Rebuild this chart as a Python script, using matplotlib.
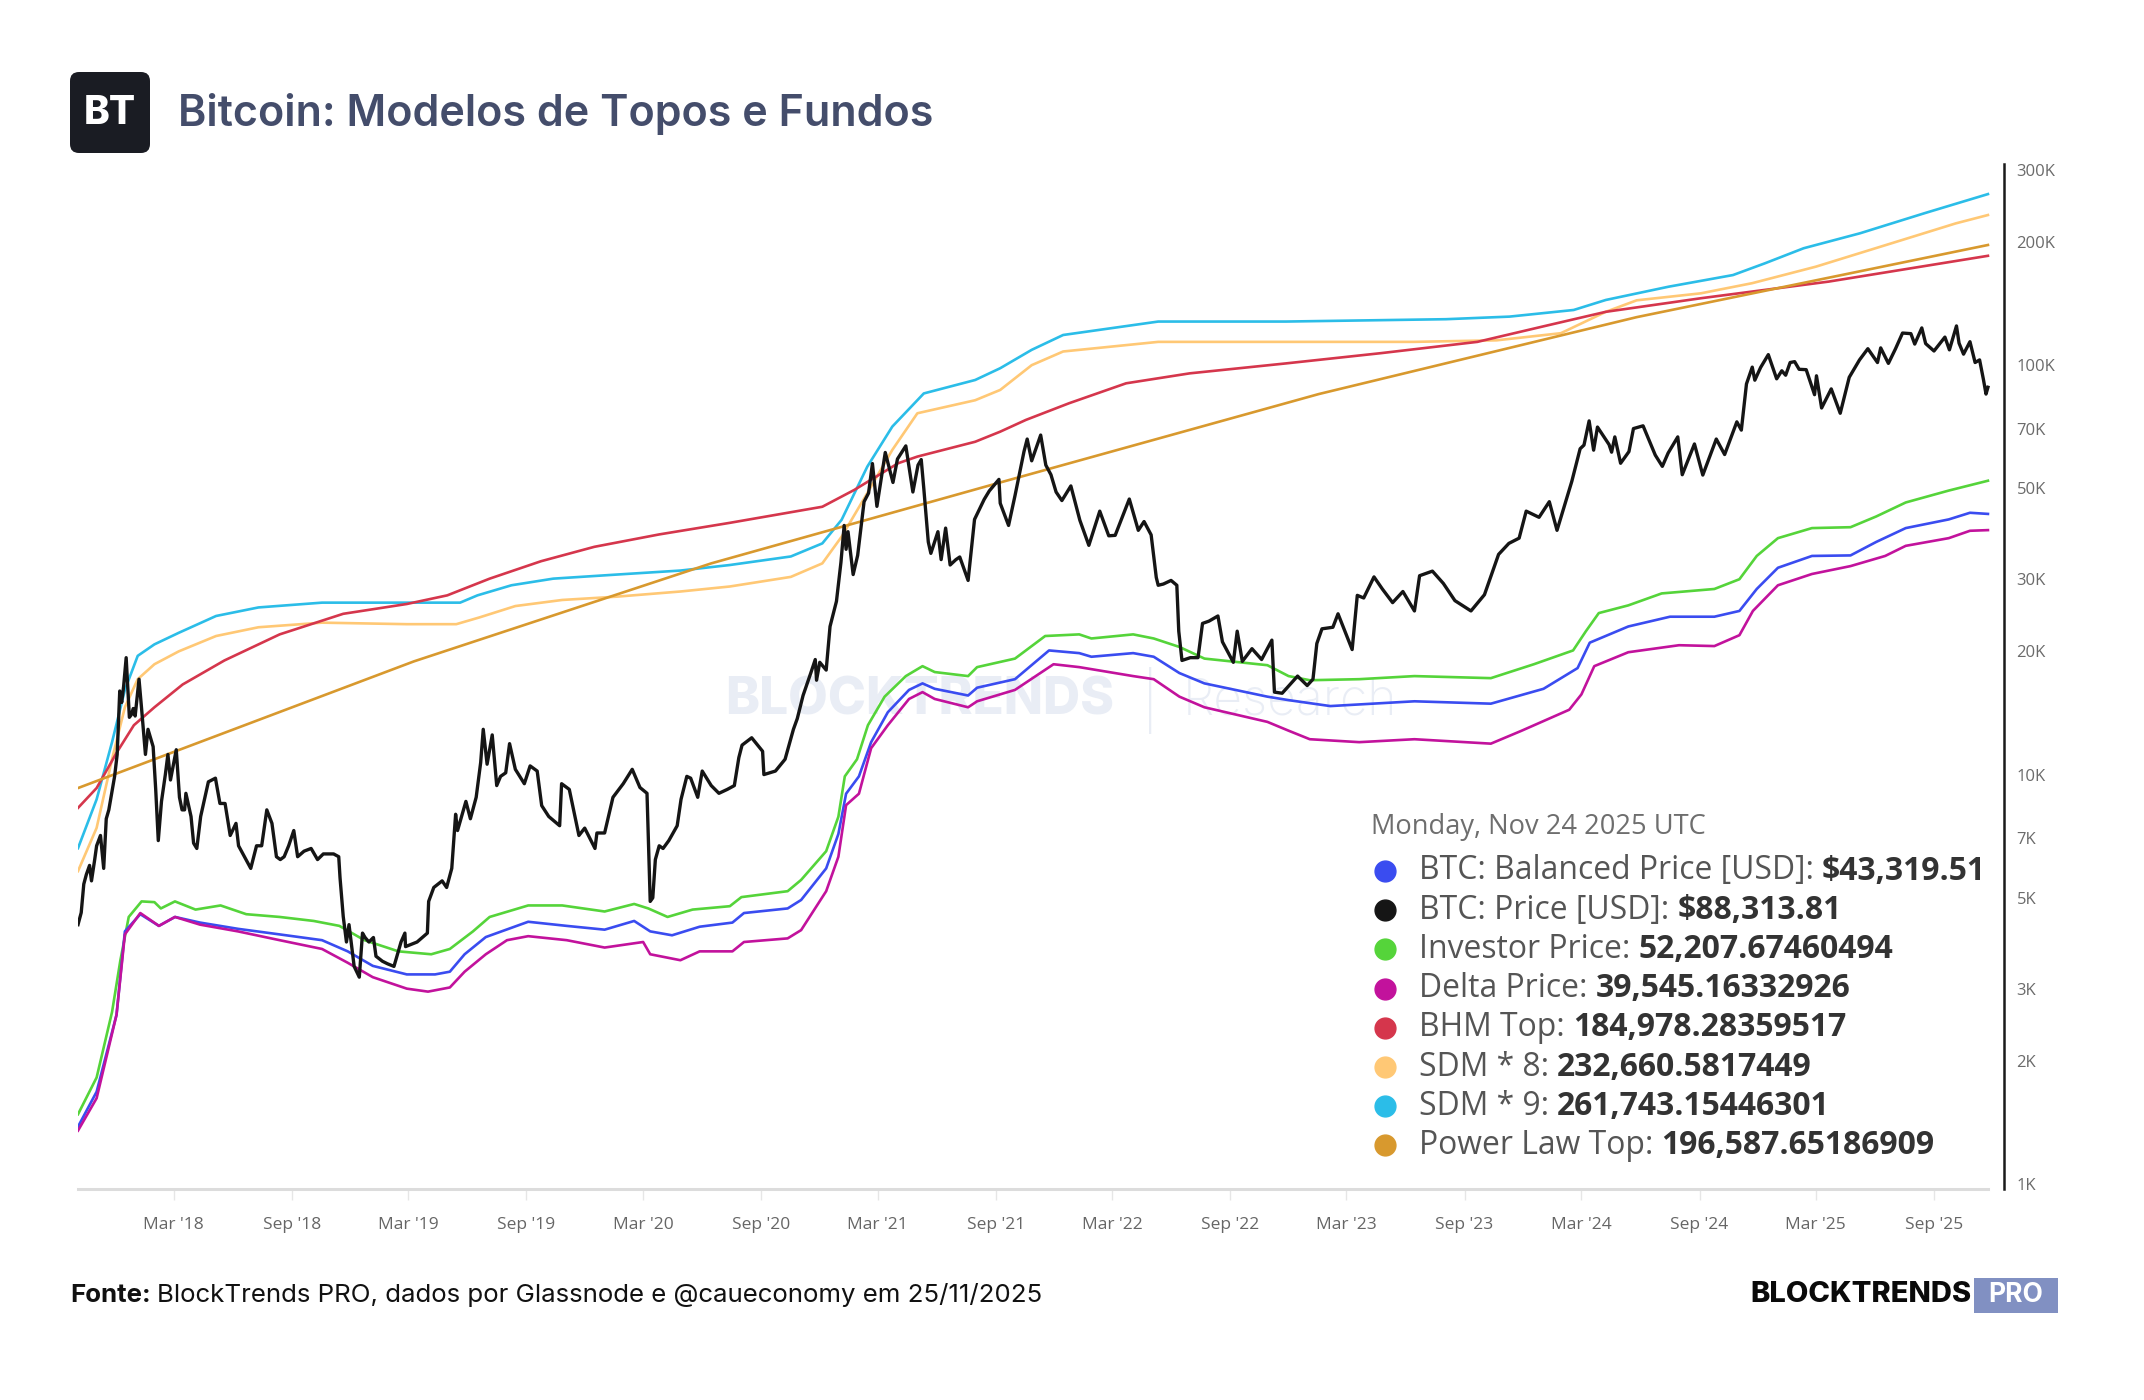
"""Bitcoin: Modelos de Topos e Fundos - log chart recreation."""
import pandas as pd
import matplotlib.pyplot as plt
import matplotlib.dates as mdates
import matplotlib.ticker as mticker
from matplotlib.lines import Line2D
from matplotlib.patches import FancyBboxPatch, Rectangle
from matplotlib.transforms import IdentityTransform

W, H = 2144, 1400

# ---- data (USD) ----
price_dates = [
    "2017-10-03", "2017-10-08", "2017-10-12", "2017-10-16", "2017-10-21", "2017-10-24", "2017-10-29",
    "2017-11-01", "2017-11-07", "2017-11-12", "2017-11-16", "2017-11-20", "2017-11-26", "2017-11-29",
    "2017-12-03", "2017-12-07", "2017-12-10", "2017-12-13", "2017-12-17", "2017-12-22", "2017-12-25",
    "2017-12-28", "2017-12-31", "2018-01-06", "2018-01-10", "2018-01-16", "2018-01-20", "2018-01-28",
    "2018-02-01", "2018-02-05", "2018-02-10", "2018-02-16", "2018-02-20", "2018-02-24", "2018-03-05",
    "2018-03-10", "2018-03-14", "2018-03-18", "2018-03-20", "2018-03-28", "2018-04-01", "2018-04-06",
    "2018-04-12", "2018-04-24", "2018-05-05", "2018-05-12", "2018-05-20", "2018-05-28", "2018-06-06",
    "2018-06-10", "2018-06-24", "2018-06-29", "2018-07-08", "2018-07-16", "2018-07-24", "2018-08-01",
    "2018-08-08", "2018-08-14", "2018-08-20", "2018-08-27", "2018-09-04", "2018-09-10", "2018-09-20",
    "2018-10-01", "2018-10-11", "2018-10-20", "2018-11-05", "2018-11-13", "2018-11-15", "2018-11-20",
    "2018-11-25", "2018-11-29", "2018-12-07", "2018-12-15", "2018-12-20", "2018-12-24", "2018-12-30",
    "2019-01-06", "2019-01-10", "2019-01-20", "2019-01-28", "2019-02-07", "2019-02-18", "2019-02-24",
    "2019-02-25", "2019-03-15", "2019-03-31", "2019-04-02", "2019-04-10", "2019-04-23", "2019-04-30",
    "2019-05-08", "2019-05-14", "2019-05-17", "2019-05-30", "2019-06-06", "2019-06-15", "2019-06-22",
    "2019-06-26", "2019-07-02", "2019-07-10", "2019-07-17", "2019-07-23", "2019-07-31", "2019-08-06",
    "2019-08-15", "2019-08-29", "2019-09-07", "2019-09-18", "2019-09-25", "2019-10-06", "2019-10-23",
    "2019-10-26", "2019-11-07", "2019-11-22", "2019-12-01", "2019-12-17", "2019-12-20", "2020-01-01",
    "2020-01-14", "2020-01-30", "2020-02-13", "2020-02-25", "2020-03-07", "2020-03-12", "2020-03-16",
    "2020-03-20", "2020-03-26", "2020-04-01", "2020-04-10", "2020-04-23", "2020-04-29", "2020-05-08",
    "2020-05-14", "2020-05-25", "2020-06-01", "2020-06-15", "2020-06-27", "2020-07-10", "2020-07-21",
    "2020-07-28", "2020-08-02", "2020-08-17", "2020-09-03", "2020-09-05", "2020-09-23", "2020-10-08",
    "2020-10-21", "2020-10-27", "2020-11-05", "2020-11-17", "2020-11-24", "2020-11-26", "2020-12-01",
    "2020-12-11", "2020-12-17", "2020-12-27", "2021-01-03", "2021-01-08", "2021-01-11", "2021-01-14",
    "2021-01-22", "2021-01-29", "2021-02-08", "2021-02-15", "2021-02-21", "2021-02-28", "2021-03-13",
    "2021-03-25", "2021-04-01", "2021-04-14", "2021-04-25", "2021-05-03", "2021-05-08", "2021-05-12",
    "2021-05-19", "2021-05-23", "2021-06-03", "2021-06-08", "2021-06-15", "2021-06-22", "2021-07-01",
    "2021-07-07", "2021-07-20", "2021-07-30", "2021-08-14", "2021-08-22", "2021-09-06", "2021-09-08",
    "2021-09-21", "2021-10-01", "2021-10-15", "2021-10-20", "2021-10-27", "2021-11-10", "2021-11-18",
    "2021-11-26", "2021-12-04", "2021-12-13", "2021-12-27", "2022-01-10", "2022-01-24", "2022-02-10",
    "2022-02-24", "2022-03-06", "2022-03-28", "2022-04-11", "2022-04-20", "2022-05-01", "2022-05-09",
    "2022-05-12", "2022-05-20", "2022-06-01", "2022-06-10", "2022-06-13", "2022-06-18", "2022-07-01",
    "2022-07-13", "2022-07-20", "2022-07-30", "2022-08-13", "2022-08-20", "2022-09-06", "2022-09-12",
    "2022-09-20", "2022-10-05", "2022-10-20", "2022-11-05", "2022-11-09", "2022-11-21", "2022-12-15",
    "2022-12-30", "2023-01-08", "2023-01-14", "2023-01-22", "2023-02-08", "2023-02-16", "2023-03-10",
    "2023-03-18", "2023-03-28", "2023-04-13", "2023-04-26", "2023-05-12", "2023-05-28", "2023-06-15",
    "2023-06-23", "2023-07-13", "2023-07-30", "2023-08-17", "2023-09-11", "2023-10-02", "2023-10-24",
    "2023-11-09", "2023-11-25", "2023-12-06", "2023-12-26", "2024-01-11", "2024-01-23", "2024-02-15",
    "2024-02-28", "2024-03-05", "2024-03-13", "2024-03-20", "2024-03-26", "2024-04-13", "2024-04-17",
    "2024-04-22", "2024-05-01", "2024-05-14", "2024-05-21", "2024-06-05", "2024-06-24", "2024-07-05",
    "2024-07-14", "2024-07-29", "2024-08-05", "2024-08-24", "2024-09-06", "2024-09-27", "2024-10-10",
    "2024-10-29", "2024-11-05", "2024-11-13", "2024-11-22", "2024-11-26", "2024-12-05", "2024-12-17",
    "2024-12-30", "2025-01-07", "2025-01-13", "2025-01-20", "2025-01-27", "2025-02-03", "2025-02-14",
    "2025-02-27", "2025-03-02", "2025-03-10", "2025-03-25", "2025-04-08", "2025-04-22", "2025-05-08",
    "2025-05-21", "2025-06-05", "2025-06-10", "2025-06-22", "2025-07-03", "2025-07-14", "2025-07-27",
    "2025-08-02", "2025-08-13", "2025-08-19", "2025-09-01", "2025-09-18", "2025-09-25", "2025-10-06",
    "2025-10-10", "2025-10-17", "2025-10-27", "2025-11-04", "2025-11-11", "2025-11-17", "2025-11-21",
    "2025-11-24",
]
price_vals = [
    4300, 4600, 5400, 5700, 6000, 5500, 6200,
    6700, 7100, 5900, 7800, 8200, 9300, 9900,
    11200, 16000, 15000, 16400, 19300, 13800, 14000,
    14500, 13900, 17100, 14500, 11200, 12900, 11700,
    9200, 6900, 8600, 10000, 11200, 9700, 11500,
    8800, 8200, 8200, 9000, 7900, 6800, 6600,
    7900, 9600, 9800, 8500, 8500, 7100, 7600,
    6700, 6100, 5900, 6700, 6700, 8200, 7600,
    6300, 6200, 6300, 6700, 7300, 6300, 6500,
    6600, 6200, 6400, 6400, 6300, 5600, 4500,
    3900, 4300, 3400, 3200, 4100, 4000, 3900,
    4000, 3600, 3500, 3450, 3400, 3900, 4100,
    3800, 3900, 4100, 4900, 5300, 5500, 5300,
    5900, 8000, 7300, 8600, 7800, 8800, 10700,
    12900, 10600, 12500, 9400, 9900, 10100, 11900,
    10300, 9500, 10500, 10200, 8400, 7900, 7500,
    9500, 9200, 7100, 7400, 6600, 7200, 7200,
    8800, 9500, 10300, 9300, 9000, 4900, 5000,
    6200, 6700, 6600, 6900, 7500, 8700, 9900,
    9800, 8800, 10200, 9400, 9000, 9200, 9400,
    11000, 11800, 12300, 11400, 10000, 10200, 10900,
    12900, 13700, 15600, 17700, 19100, 17000, 18800,
    18000, 23000, 26500, 33000, 40600, 35500, 39200,
    30800, 34300, 46400, 48700, 57500, 45200, 61200,
    51700, 59000, 63500, 49000, 57000, 58800, 50000,
    37000, 34700, 39200, 33500, 40000, 32500, 33500,
    34000, 29800, 42000, 47000, 49300, 52600, 46000,
    40600, 48000, 61500, 66000, 58400, 67500, 57000,
    54000, 49000, 46700, 50700, 41800, 36300, 44000,
    38300, 38400, 47100, 39500, 41500, 38500, 30300,
    29000, 29200, 29800, 29000, 22400, 19000, 19300,
    19300, 23400, 23700, 24400, 21100, 18800, 22400,
    18900, 20300, 19100, 21300, 15900, 15800, 17400,
    16500, 17100, 20900, 22700, 22900, 24700, 20200,
    27400, 27000, 30400, 28400, 26300, 28000, 25100,
    30600, 31400, 29300, 26600, 25100, 27500, 34500,
    36700, 37800, 44000, 42500, 46400, 39500, 52000,
    62500, 63800, 73100, 62000, 70600, 64000, 61300,
    66800, 57600, 61500, 70000, 71100, 60300, 56600,
    61000, 66800, 54000, 64200, 53900, 66000, 60500,
    72700, 69400, 90000, 98900, 91900, 98700, 106100,
    92600, 96900, 94500, 101500, 102000, 97700, 97500,
    84700, 94200, 78600, 87500, 76300, 93400, 103000,
    109700, 101500, 110200, 101000, 109600, 119800, 119400,
    112600, 123300, 112900, 108300, 117100, 109000, 124700,
    113200, 106400, 114100, 101500, 103000, 92200, 85000,
    88314,
]

investor_dates = [
    "2017-10-03", "2017-11-01", "2017-11-25", "2017-12-08", "2017-12-21", "2018-01-10", "2018-01-30",
    "2018-02-09", "2018-03-03", "2018-04-04", "2018-05-13", "2018-06-22", "2018-08-13", "2018-10-05",
    "2018-11-14", "2018-12-23", "2019-02-14", "2019-04-06", "2019-05-05", "2019-06-10", "2019-07-06",
    "2019-09-04", "2019-10-27", "2020-01-01", "2020-02-16", "2020-03-09", "2020-04-08", "2020-05-17",
    "2020-07-14", "2020-08-01", "2020-10-12", "2020-11-02", "2020-12-11", "2020-12-30", "2021-01-09",
    "2021-01-28", "2021-02-14", "2021-03-12", "2021-04-14", "2021-05-10", "2021-05-29", "2021-07-20",
    "2021-08-03", "2021-10-01", "2021-11-17", "2022-01-09", "2022-01-28", "2022-04-03", "2022-05-05",
    "2022-06-14", "2022-07-23", "2022-10-29", "2022-12-01", "2023-01-03", "2023-03-21", "2023-06-15",
    "2023-10-12", "2023-12-18", "2024-02-17", "2024-03-08", "2024-03-28", "2024-05-13", "2024-07-04",
    "2024-09-24", "2024-11-02", "2024-11-29", "2025-01-01", "2025-02-23", "2025-04-24", "2025-06-03",
    "2025-07-19", "2025-09-24", "2025-11-24",
]
investor_vals = [
    1480, 1820, 2630, 3520, 4490, 4900, 4880,
    4710, 4900, 4680, 4790, 4560, 4490, 4390,
    4270, 3940, 3700, 3640, 3750, 4140, 4490,
    4790, 4790, 4630, 4830, 4710, 4490, 4680,
    4770, 5020, 5190, 5530, 6500, 7890, 9900,
    10900, 13200, 15500, 17400, 18400, 17800, 17400,
    18300, 19200, 21800, 22000, 21500, 22000, 21500,
    20500, 19200, 18500, 17400, 17000, 17100, 17400,
    17200, 18600, 20100, 22400, 24800, 25900, 27700,
    28400, 30000, 34200, 37800, 40000, 40200, 42700,
    46200, 49400, 52208,
]

balanced_dates = [
    "2017-10-03", "2017-11-01", "2017-12-02", "2017-12-15", "2018-01-08", "2018-02-06", "2018-03-03",
    "2018-04-11", "2018-06-09", "2018-08-13", "2018-10-18", "2018-11-27", "2019-01-05", "2019-02-27",
    "2019-04-12", "2019-05-05", "2019-05-28", "2019-06-30", "2019-09-04", "2019-11-03", "2020-01-01",
    "2020-02-16", "2020-03-12", "2020-04-15", "2020-05-28", "2020-07-18", "2020-08-05", "2020-10-12",
    "2020-11-02", "2020-12-11", "2020-12-30", "2021-01-11", "2021-01-31", "2021-02-19", "2021-03-17",
    "2021-04-19", "2021-05-10", "2021-05-29", "2021-07-20", "2021-08-03", "2021-10-01", "2021-11-23",
    "2022-01-09", "2022-01-28", "2022-04-03", "2022-05-05", "2022-06-14", "2022-07-23", "2022-10-29",
    "2022-12-01", "2023-02-04", "2023-06-15", "2023-10-12", "2024-01-02", "2024-02-24", "2024-03-14",
    "2024-05-13", "2024-07-17", "2024-09-24", "2024-11-02", "2024-11-29", "2025-01-01", "2025-02-23",
    "2025-04-24", "2025-06-03", "2025-07-19", "2025-09-24", "2025-10-27", "2025-11-24",
]
balanced_vals = [
    1380, 1680, 2590, 4140, 4560, 4270, 4490,
    4350, 4200, 4070, 3940, 3700, 3410, 3250,
    3250, 3300, 3640, 4010, 4370, 4270, 4180,
    4390, 4140, 4050, 4250, 4350, 4590, 4710,
    4940, 5900, 7160, 8980, 9900, 12000, 14200,
    16100, 16700, 16200, 15600, 16300, 17100, 20100,
    19800, 19400, 19800, 19400, 17700, 16700, 15500,
    15200, 14700, 15100, 14900, 16200, 18200, 21000,
    23000, 24300, 24300, 25100, 28400, 32000, 34200,
    34300, 37000, 40000, 42000, 43600, 43320,
]

delta_dates = [
    "2017-10-03", "2017-11-01", "2017-12-02", "2017-12-15", "2018-01-08", "2018-02-06", "2018-03-03",
    "2018-04-11", "2018-06-09", "2018-08-13", "2018-10-18", "2018-11-27", "2019-01-05", "2019-02-27",
    "2019-04-01", "2019-05-05", "2019-05-28", "2019-06-30", "2019-08-02", "2019-09-04", "2019-11-03",
    "2020-01-01", "2020-03-01", "2020-03-12", "2020-04-28", "2020-05-28", "2020-07-18", "2020-08-05",
    "2020-10-12", "2020-11-02", "2020-12-11", "2020-12-30", "2021-01-11", "2021-01-31", "2021-02-19",
    "2021-03-17", "2021-04-19", "2021-05-10", "2021-05-29", "2021-07-20", "2021-08-03", "2021-10-01",
    "2021-11-30", "2022-01-09", "2022-04-03", "2022-05-05", "2022-06-14", "2022-07-23", "2022-10-29",
    "2022-12-01", "2023-01-03", "2023-03-21", "2023-06-15", "2023-10-12", "2023-11-29", "2024-02-11",
    "2024-03-01", "2024-03-21", "2024-05-13", "2024-07-31", "2024-09-24", "2024-11-02", "2024-11-23",
    "2025-01-01", "2025-02-23", "2025-04-24", "2025-06-17", "2025-07-19", "2025-09-24", "2025-10-27",
    "2025-11-24",
]
delta_vals = [
    1350, 1620, 2590, 4070, 4590, 4270, 4490,
    4300, 4140, 3940, 3750, 3470, 3200, 3000,
    2950, 3020, 3300, 3640, 3940, 4030, 3940,
    3780, 3900, 3640, 3520, 3700, 3700, 3900,
    3980, 4170, 5190, 6300, 8420, 8980, 11600,
    13200, 15300, 15900, 15300, 14600, 15100, 16100,
    18600, 18300, 17400, 17100, 15500, 14600, 13450,
    12800, 12200, 12000, 12200, 11900, 12800, 14400,
    15700, 18400, 19900, 20700, 20600, 21900, 25100,
    29000, 30900, 32300, 34200, 36200, 37800, 39400,
    39545,
]

bhm_dates = [
    "2017-10-03", "2017-11-01", "2017-12-02", "2017-12-29", "2018-01-30", "2018-03-15", "2018-05-19",
    "2018-08-13", "2018-11-20", "2019-02-27", "2019-05-01", "2019-07-06", "2019-09-24", "2019-12-16",
    "2020-03-26", "2020-07-14", "2020-12-05", "2021-01-24", "2021-04-02", "2021-05-02", "2021-07-31",
    "2021-09-08", "2021-10-18", "2021-12-24", "2022-03-23", "2022-06-30", "2022-11-27", "2023-04-24",
    "2023-09-21", "2023-12-29", "2024-04-08", "2024-09-03", "2025-03-21", "2025-11-24",
]
bhm_vals = [
    8290, 9270, 11300, 13200, 14600, 16600, 19000,
    22000, 24700, 26100, 27400, 30100, 33200, 36000,
    38600, 41200, 45100, 49600, 57600, 59800, 65000,
    68800, 73500, 80700, 90300, 95500, 101000, 107000,
    114000, 124000, 135000, 145700, 160000, 184978,
]

sdm8_dates = [
    "2017-10-03", "2017-11-01", "2017-11-25", "2017-12-15", "2018-01-04", "2018-01-30", "2018-03-09",
    "2018-05-06", "2018-07-11", "2018-10-18", "2019-02-27", "2019-05-15", "2019-06-20", "2019-08-15",
    "2019-10-27", "2020-01-20", "2020-04-28", "2020-07-14", "2020-10-17", "2020-12-05", "2021-01-04",
    "2021-02-13", "2021-03-24", "2021-05-02", "2021-07-31", "2021-09-08", "2021-10-27", "2021-12-15",
    "2022-05-12", "2023-06-14", "2023-10-21", "2024-01-29", "2024-04-08", "2024-05-26", "2024-09-03",
    "2024-11-22", "2025-03-01", "2025-06-27", "2025-10-05", "2025-11-24",
]
sdm8_vals = [
    5810, 7410, 10900, 14600, 17100, 18600, 20000,
    21800, 22900, 23500, 23300, 23300, 24200, 25800,
    26700, 27200, 28000, 28800, 30400, 32800, 38100,
    48700, 62100, 76300, 82100, 87000, 100000, 108000,
    114000, 114000, 115000, 119700, 135000, 144000, 149800,
    158600, 174000, 198500, 222000, 232661,
]

sdm9_dates = [
    "2017-10-03", "2017-11-01", "2017-11-25", "2017-12-15", "2018-01-04", "2018-01-30", "2018-03-09",
    "2018-05-06", "2018-07-11", "2018-10-18", "2019-02-27", "2019-05-21", "2019-06-17", "2019-08-09",
    "2019-10-13", "2020-01-20", "2020-04-28", "2020-07-14", "2020-10-17", "2020-12-05", "2021-01-04",
    "2021-02-13", "2021-03-24", "2021-05-12", "2021-07-31", "2021-09-08", "2021-10-27", "2021-12-15",
    "2022-05-12", "2022-11-27", "2023-08-03", "2023-11-10", "2024-02-18", "2024-04-08", "2024-07-15",
    "2024-10-23", "2024-12-12", "2025-02-10", "2025-05-09", "2025-08-17", "2025-11-24",
]
sdm9_vals = [
    6610, 8700, 12000, 16100, 19500, 20800, 22200,
    24400, 25600, 26300, 26300, 26300, 27400, 29000,
    30100, 30800, 31500, 32500, 34100, 36700, 41900,
    56500, 70800, 85300, 92000, 98300, 109000, 118500,
    127800, 127800, 129500, 131400, 136400, 144300, 155500,
    166000, 177400, 193000, 210000, 235000, 261743,
]

powerlaw_dates = ["2017-10-03", "2019-03-10", "2020-06-15", "2021-09-08", "2023-01-17", "2024-05-26", "2025-11-24"]
powerlaw_vals = [9270, 18900, 32800, 51700, 85000, 131000, 196588]

legend_date = "Monday, Nov 24 2025 UTC"
legend_labels = ["BTC: Balanced Price [USD]:", "BTC: Price [USD]:", "Investor Price:", "Delta Price:",
                 "BHM Top:", "SDM * 8:", "SDM * 9:", "Power Law Top:"]
legend_values = ["$43,319.51", "$88,313.81", "52,207.67460494", "39,545.16332926",
                 "184,978.28359517", "232,660.5817449", "261,743.15446301", "196,587.65186909"]

yticks = [1e3, 2e3, 3e3, 5e3, 7e3, 1e4, 2e4, 3e4, 5e4, 7e4, 1e5, 2e5, 3e5]
ytick_labels = ["1K", "2K", "3K", "5K", "7K", "10K", "20K", "30K", "50K", "70K", "100K", "200K", "300K"]

# ---- styling ----
C_BAL, C_PRICE, C_INV, C_DELTA = "#3a4cf0", "#151515", "#55d43a", "#c2129c"
C_BHM, C_SDM8, C_SDM9, C_PL = "#d5364c", "#ffc875", "#2bbde8", "#d8992e"
leg_colors = [C_BAL, C_PRICE, C_INV, C_DELTA, C_BHM, C_SDM8, C_SDM9, C_PL]
LEG_FONT = "Open Sans"

plt.rcParams["font.family"] = ["Open Sans", "DejaVu Sans"]

fig = plt.figure(figsize=(W / 100, H / 100), dpi=100)
fig.patch.set_facecolor("white")

# axes placed in pixel terms: x 78..2004, y 164..1189
ax = fig.add_axes([78 / W, 1 - 1189.4 / H, 1926 / W, 1025.4 / H])

td = lambda d: pd.to_datetime(d)
lw = 1.9
ax.plot(td(sdm9_dates), sdm9_vals, color=C_SDM9, lw=lw, zorder=3)
ax.plot(td(sdm8_dates), sdm8_vals, color=C_SDM8, lw=lw, zorder=3)
ax.plot(td(bhm_dates), bhm_vals, color=C_BHM, lw=lw, zorder=3)
ax.plot(td(powerlaw_dates), powerlaw_vals, color=C_PL, lw=lw, zorder=3)
ax.plot(td(investor_dates), investor_vals, color=C_INV, lw=lw, zorder=3)
ax.plot(td(balanced_dates), balanced_vals, color=C_BAL, lw=lw, zorder=3)
ax.plot(td(delta_dates), delta_vals, color=C_DELTA, lw=lw, zorder=3)
ax.plot(td(price_dates), price_vals, color=C_PRICE, lw=2.4, zorder=4)

ax.set_yscale("log")
ax.set_ylim(970, 310000)
start, end = td(price_dates[0]), td(price_dates[-1])
ax.set_xlim(start, end + pd.Timedelta(days=25))

ax.yaxis.tick_right()
ax.yaxis.set_major_locator(mticker.FixedLocator(yticks))
ax.yaxis.set_major_formatter(mticker.FixedFormatter(ytick_labels))
ax.yaxis.set_minor_locator(mticker.NullLocator())
ax.tick_params(axis="y", length=0, pad=9, labelsize=12, labelcolor="#6b6b6b")

ax.xaxis.set_major_locator(mdates.MonthLocator(bymonth=[3, 9]))
ax.xaxis.set_major_formatter(mdates.DateFormatter("%b '%y"))
ax.tick_params(axis="x", length=8, width=1, color="#e6e6e6", pad=12, labelsize=12.5, labelcolor="#666666")

for s in ("left", "top"):
    ax.spines[s].set_visible(False)
ax.spines["right"].set_color("#1a1a1a")
ax.spines["right"].set_linewidth(1.8)
ax.spines["bottom"].set_color("#dcdcdc")
ax.spines["bottom"].set_linewidth(2.2)
ax.spines["bottom"].set_bounds(mdates.date2num(start), mdates.date2num(end))

# watermark
wm_y = 1 - 701 / H
ax.text(1114 / W, wm_y, "BLOCKTRENDS", transform=fig.transFigure, ha="right", va="center",
        fontsize=37, fontweight="heavy", family="Inter", color="#e9edf5", zorder=1)
ax.text(1150 / W, wm_y, "|", transform=fig.transFigure, ha="center", va="center",
        fontsize=40, family="Inter", fontweight="light", color="#e9edf5", zorder=1)
ax.text(1183 / W, wm_y, "Research", transform=fig.transFigure, ha="left", va="center",
        fontsize=36, family="Inter", fontweight="light", color="#e9edf5", zorder=1)

# header: logo + title
fig.add_artist(FancyBboxPatch((70, H - 153), 80, 81, boxstyle="round,pad=0,rounding_size=9",
                              transform=IdentityTransform(), facecolor="#1a1c23", edgecolor="none"))
fig.text(110 / W, 1 - 114 / H, "BT", ha="center", va="center", color="white",
         fontsize=28, fontweight="heavy", family="Inter")
fig.text(178 / W, 1 - 114 / H, "Bitcoin: Modelos de Topos e Fundos", ha="left", va="center",
         color="#444d6b", fontsize=31, fontweight="semibold", family="Inter")

renderer = fig.canvas.get_renderer()

# legend block: font size fitted so the first row spans ~566 px like the reference
probe_a = fig.text(0, 0, legend_labels[0], fontsize=20, family=LEG_FONT)
probe_b = fig.text(0, 0, legend_values[0], fontsize=20, family=LEG_FONT, fontweight="bold")
row_w = probe_a.get_window_extent(renderer).width + probe_b.get_window_extent(renderer).width
probe_a.remove()
probe_b.remove()
leg_size = 20 * (566 - 8) / row_w

fig.text(1371 / W, 1 - 827 / H, legend_date, ha="left", va="center", color="#6e6e6e",
         fontsize=leg_size * 0.855, family=LEG_FONT)
for i, (lab, val, col) in enumerate(zip(legend_labels, legend_values, leg_colors)):
    y = 1 - (871 + i * 39.2) / H
    fig.add_artist(Line2D([1385 / W], [y], marker="o", markersize=15, color=col,
                          linestyle="none", transform=fig.transFigure))
    t = fig.text(1419 / W, y, lab, ha="left", va="center", color="#555555",
                 fontsize=leg_size, family=LEG_FONT)
    bb = t.get_window_extent(renderer)
    fig.text((bb.x1 + 8) / W, y, val, ha="left", va="center", color="#333333",
             fontsize=leg_size, fontweight="bold", family=LEG_FONT)

# footer
fy = 1 - 1295 / H
t = fig.text(70 / W, fy, "Fonte:", ha="left", va="center", color="#111111",
             fontsize=18.6, fontweight="bold", family="Inter")
bb = t.get_window_extent(renderer)
fig.text((bb.x1 + 6) / W, fy, "BlockTrends PRO, dados por Glassnode e @caueconomy em 25/11/2025",
         ha="left", va="center", color="#111111", fontsize=18.6, family="Inter")

fig.add_artist(Rectangle((1974, H - 1313), 84, 35, transform=IdentityTransform(),
                         facecolor="#8190c2", edgecolor="none"))
fig.text(2016 / W, fy, "PRO", ha="center", va="center", color="white",
         fontsize=19, fontweight="bold", family="Inter")
fig.text(1971 / W, fy, "BLOCKTRENDS", ha="right", va="center", color="#0a0a0a",
         fontsize=21, fontweight="heavy", family="Inter")

fig.savefig("out.png", dpi=100, facecolor="white")
